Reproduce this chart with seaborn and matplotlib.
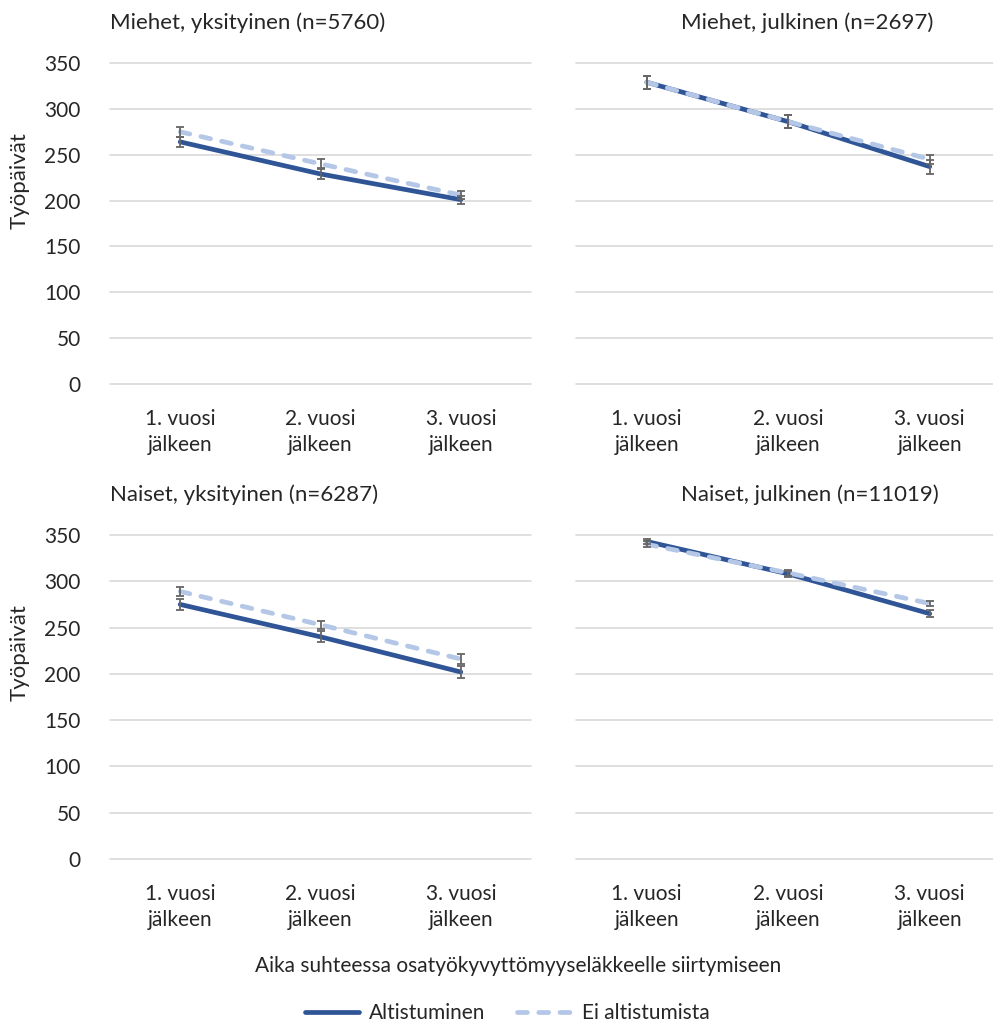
import numpy as np
import pandas as pd
import matplotlib
matplotlib.use("Agg")
import matplotlib.pyplot as plt
import seaborn as sns

# -------------------------------------------------------------------
# Data
# -------------------------------------------------------------------
categories = ["1. vuosi\njälkeen", "2. vuosi\njälkeen", "3. vuosi\njälkeen"]
series_names = ["Altistuminen", "Ei altistumista"]
panel_titles = ["Miehet, yksityinen (n=5760)", "Miehet, julkinen (n=2697)",
                "Naiset, yksityinen (n=6287)", "Naiset, julkinen (n=11019)"]

# Miehet, yksityinen
my_alt = [264, 229, 201]
my_alt_err = [5.5, 5, 4.5]
my_ei = [275, 240, 206]
my_ei_err = [5.5, 5, 4.5]

# Miehet, julkinen
mj_alt = [329, 286, 237]
mj_alt_err = [7, 7, 7.5]
mj_ei = [329, 286, 245]
mj_ei_err = [7, 7, 5]

# Naiset, yksityinen
ny_alt = [275, 240, 202]
ny_alt_err = [6, 6, 6]
ny_ei = [289, 253, 216]
ny_ei_err = [5, 4.5, 5]

# Naiset, julkinen
nj_alt = [343, 308, 265]
nj_alt_err = [3, 3, 4]
nj_ei = [340, 309, 276]
nj_ei_err = [3, 3, 3]

y_ticks = [0, 50, 100, 150, 200, 250, 300, 350]
y_label = "Työpäivät"
x_label = "Aika suhteessa osatyökyvyttömyyseläkkeelle siirtymiseen"

panels = [
    (my_alt, my_alt_err, my_ei, my_ei_err),
    (mj_alt, mj_alt_err, mj_ei, mj_ei_err),
    (ny_alt, ny_alt_err, ny_ei, ny_ei_err),
    (nj_alt, nj_alt_err, nj_ei, nj_ei_err),
]

# -------------------------------------------------------------------
# Style
# -------------------------------------------------------------------
sns.set_theme(style="white")
plt.rcParams['font.family'] = ['Lato', 'DejaVu Sans']

DARK = "#2F5597"
LIGHT = "#B4C7E7"
ERR = "#666666"
GRID = "#D9D9D9"
TXT = "#262626"
FS = 15
LW = 3.4

W, H = 993, 1023
fig = plt.figure(figsize=(W / 100, H / 100), dpi=100)


def px_axes(left, right, top, bottom):
    return fig.add_axes([left / W, 1 - bottom / H, (right - left) / W, (bottom - top) / H])


axes = [
    px_axes(110, 531, 63, 384),
    px_axes(576, 993, 63, 384),
    px_axes(110, 531, 535, 859),
    px_axes(576, 993, 535, 859),
]

for i, (ax, (alt, alt_err, ei, ei_err)) in enumerate(zip(axes, panels)):
    df = pd.DataFrame({
        "x": list(range(len(categories))) * 2,
        "y": alt + ei,
        "group": [series_names[0]] * len(alt) + [series_names[1]] * len(ei),
    })
    sns.lineplot(data=df, x="x", y="y", hue="group", style="group",
                 palette={series_names[0]: DARK, series_names[1]: LIGHT},
                 dashes={series_names[0]: "", series_names[1]: (2.1, 2.4)},
                 linewidth=LW, ax=ax, legend=(i == 0), zorder=3)
    for line in ax.get_lines():
        line.set_dash_capstyle("round")
        line.set_solid_capstyle("round")
    x = np.arange(len(categories))
    ax.errorbar(x, alt, yerr=alt_err, fmt="none", ecolor=ERR, elinewidth=1.3,
                capsize=3, capthick=1.3, zorder=4)
    ax.errorbar(x, ei, yerr=ei_err, fmt="none", ecolor=ERR, elinewidth=1.3,
                capsize=3, capthick=1.3, zorder=4)

    ax.set_ylim(0, 350)
    ax.set_yticks(y_ticks)
    if i in (0, 2):
        ax.set_xlim(-0.5, 2.5)
        ax.set_yticklabels([str(t) for t in y_ticks], fontsize=FS, color=TXT)
    else:
        ax.set_xlim(-0.5, 2.447)
        ax.set_yticklabels([])
    ax.set_xticks(x)
    ax.set_xticklabels(categories, fontsize=FS, color=TXT, linespacing=1.4)
    ax.tick_params(axis="both", length=0)
    ax.tick_params(axis="y", pad=21)
    ax.tick_params(axis="x", pad=18)
    ax.grid(axis="y", color=GRID, linewidth=1.2)
    for g in ax.get_ygridlines():
        g.set_clip_on(False)
    ax.set_axisbelow(True)
    for s in ax.spines.values():
        s.set_visible(False)
    ax.set_xlabel("")
    ax.set_ylabel("")
    if ax.get_legend() is not None:
        handles, labels = ax.get_legend_handles_labels()
        ax.get_legend().remove()

# Panel titles
fig.text(110 / W, 1 - 29 / H, panel_titles[0], fontsize=16, color=TXT, va="baseline", ha="left")
fig.text(807 / W, 1 - 29 / H, panel_titles[1], fontsize=16, color=TXT, va="baseline", ha="center")
fig.text(110 / W, 1 - 501 / H, panel_titles[2], fontsize=16, color=TXT, va="baseline", ha="left")
fig.text(810 / W, 1 - 501 / H, panel_titles[3], fontsize=16, color=TXT, va="baseline", ha="center")

# Y labels
fig.text(20 / W, 1 - 181 / H, y_label, fontsize=16, color=TXT, rotation=90, va="center", ha="center")
fig.text(20 / W, 1 - 653 / H, y_label, fontsize=16, color=TXT, rotation=90, va="center", ha="center")

# X label
fig.text(518 / W, 1 - 966 / H, x_label, fontsize=FS, color=TXT, va="center", ha="center")

# Legend
leg = fig.legend(handles, labels, loc="center", bbox_to_anchor=(507 / W, 1 - 1013 / H),
                 ncol=2, frameon=False, fontsize=FS, handlelength=2.6, columnspacing=1.5,
                 handletextpad=0.5, labelcolor=TXT)
for h in leg.get_lines():
    h.set_linewidth(LW)
    h.set_dash_capstyle("round")

fig.savefig("out.png", dpi=100)
